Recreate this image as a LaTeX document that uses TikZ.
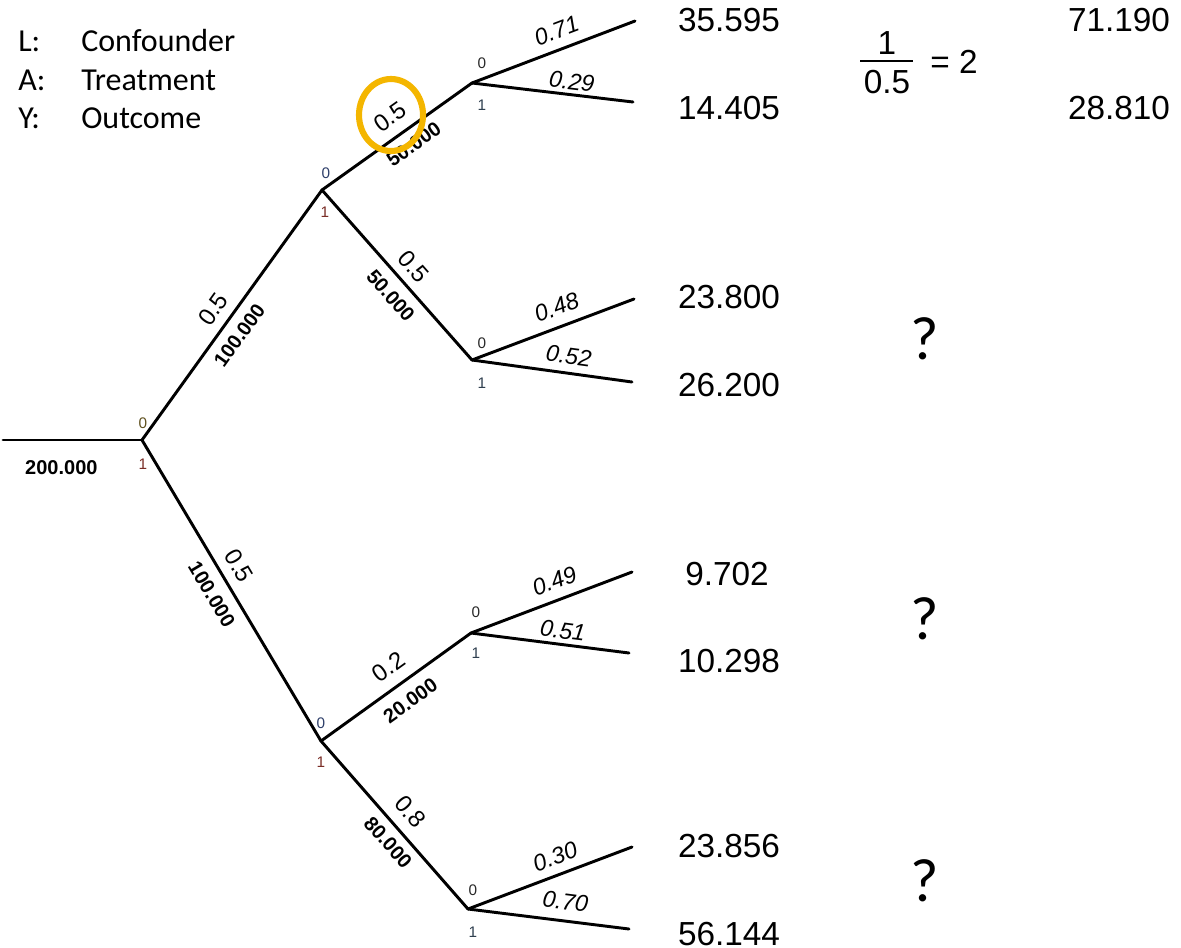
\documentclass[tikz,border=0pt]{standalone}
\usepackage{fontspec}
\setmainfont{Liberation Sans}
\newfontfamily\legendfont{Carlito}
\definecolor{ringcol}{RGB}{244,182,0}
\definecolor{zerotop}{RGB}{95,80,30}
\definecolor{zeromid}{RGB}{45,62,105}
\definecolor{zerolow}{RGB}{40,40,40}
\definecolor{onecol}{RGB}{122,45,38}
\definecolor{onelow}{RGB}{47,63,79}
\begin{document}
\begin{tikzpicture}[x=0.75pt,y=-0.75pt,
  branch/.style={line width=2.2pt,black,line cap=round},
  prob/.style={sloped,inner sep=0pt,font=\fontsize{18}{20}\selectfont},
  lprob/.style={sloped,inner sep=0pt,font=\fontsize{17.5}{20}\selectfont\itshape},
  wt/.style={sloped,inner sep=0pt,font=\fontsize{15}{17}\selectfont\bfseries},
  tiny/.style={inner sep=0pt,font=\fontsize{11.5}{13}\selectfont},
  leafval/.style={inner sep=0pt,font=\fontsize{25}{28}\selectfont},
  qmark/.style={inner sep=0pt,font=\legendfont\fontsize{46}{52}\selectfont},
  legend/.style={inner sep=0pt,anchor=base west,font=\legendfont\fontsize{24}{28}\selectfont}]
\useasboundingbox (0,0) rectangle (1181,947);

% legend
\node[legend] (lgL) at (18,51.5) {L:};
\node[legend] (lgLt) at (81,51.5) {Confounder};
\node[legend] (lgA) at (18,90.5) {A:};
\node[legend] (lgAt) at (81,90.5) {Treatment};
\node[legend] (lgY) at (18,128.5) {Y:};
\node[legend] (lgYt) at (81,128.5) {Outcome};

% tree points
\coordinate (S) at (3,440);
\coordinate (R) at (142,440);
\coordinate (Lt) at (322,190);
\coordinate (Lb) at (321,741);
\coordinate (A00) at (472,83);
\coordinate (A01) at (472,360);
\coordinate (A10) at (471,633);
\coordinate (A11) at (468,909);
\coordinate (Y000) at (635,21);
\coordinate (Y001) at (633,102);
\coordinate (Y010) at (634,299);
\coordinate (Y011) at (632,382);
\coordinate (Y100) at (632,572);
\coordinate (Y101) at (629,653);
\coordinate (Y110) at (632,847);
\coordinate (Y111) at (629,929);

% root
\draw[branch] (S) -- node[wt,sloped=false,below=14.5pt,pos=0.42]{200.000} (R);
% L branches
\draw[branch] (R) -- node[prob,above=6.7pt,pos=0.48]{0.5} node[wt,below=7pt,pos=0.46]{100.000} (Lt);
\draw[branch] (R) -- node[prob,above=6.9pt,pos=0.45]{0.5} node[wt,below=7.7pt,pos=0.48]{100.000} (Lb);
% A branches
\draw[branch] (Lt) -- node[prob,above=7.6pt,pos=0.53]{0.5} node[wt,below=5.6pt,pos=0.55]{50.000} (A00);
\draw[branch] (Lt) -- node[prob,above=6pt,pos=0.52]{0.5} node[wt,below=7.4pt,pos=0.55]{50.000} (A01);
\draw[branch] (Lb) -- node[prob,above=7.9pt,pos=0.53]{0.2} node[wt,below=8.2pt,pos=0.52]{20.000} (A10);
\draw[branch] (Lb) -- node[prob,above=8.3pt,pos=0.50]{0.8} node[wt,below=5.9pt,pos=0.54]{80.000} (A11);
% Y branches
\draw[branch] (A00) -- node[lprob,above=6.8pt,pos=0.56]{0.71} (Y000);
\draw[branch] (A00) -- node[lprob,above=2.6pt,pos=0.61]{0.29} (Y001);
\draw[branch] (A01) -- node[lprob,above=7.4pt,pos=0.565]{0.48} (Y010);
\draw[branch] (A01) -- node[lprob,above=5.6pt,pos=0.59]{0.52} (Y011);
\draw[branch] (A10) -- node[lprob,above=7pt,pos=0.56]{0.49} (Y100);
\draw[branch] (A10) -- node[lprob,above=3.2pt,pos=0.57]{0.51} (Y101);
\draw[branch] (A11) -- node[lprob,above=6.3pt,pos=0.57]{0.30} (Y110);
\draw[branch] (A11) -- node[lprob,above=7.1pt,pos=0.59]{0.70} (Y111);

% small 0/1 labels
\node[tiny,text=zerotop] (zR) at ([shift={(1,-17)}]R) {0};
\node[tiny,text=onecol] (oR) at ([shift={(1,24)}]R) {1};
\node[tiny,text=zeromid] (zLt) at ([shift={(4,-17)}]Lt) {0};
\node[tiny,text=onecol] (oLt) at ([shift={(3,22)}]Lt) {1};
\node[tiny,text=zeromid] (zLb) at ([shift={(0,-18)}]Lb) {0};
\node[tiny,text=onecol] (oLb) at ([shift={(0,21)}]Lb) {1};
\node[tiny,text=zerolow] (zA00) at ([shift={(10,-20)}]A00) {0};
\node[tiny,text=onelow] (oA00) at ([shift={(10,22)}]A00) {1};
\node[tiny,text=zerolow] (zA01) at ([shift={(10,-17)}]A01) {0};
\node[tiny,text=onelow] (oA01) at ([shift={(10,23)}]A01) {1};
\node[tiny,text=zerolow] (zA10) at ([shift={(5,-21)}]A10) {0};
\node[tiny,text=onelow] (oA10) at ([shift={(5,20)}]A10) {1};
\node[tiny,text=zerolow] (zA11) at ([shift={(5,-19)}]A11) {0};
\node[tiny,text=onelow] (oA11) at ([shift={(5,23)}]A11) {1};

% leaf values
\node[leafval] (v000) at (729,20) {35.595};
\node[leafval] (v001) at (729,108) {14.405};
\node[leafval] (v010) at (729,297) {23.800};
\node[leafval] (v011) at (729,385) {26.200};
\node[leafval] (v100) at (727,574) {9.702};
\node[leafval] (v101) at (729,661) {10.298};
\node[leafval] (v110) at (729,846) {23.856};
\node[leafval] (v111) at (729,934) {56.144};

% right column
\node[leafval] (w000) at (1119,20) {71.190};
\node[leafval] (w001) at (1119,108) {28.810};
\node[leafval] (fnum) at (887,43) {1};
\node[leafval] (fden) at (887,82) {0.5};
\coordinate (fbl) at (860,61);
\coordinate (fbr) at (913,61);
\draw[line width=1.8pt] (fbl) -- (fbr);
\node[leafval] (feq) at (954,62) {= 2};

\node[qmark] (q1) at (925,339) {?};
\node[qmark] (q2) at (925,619) {?};
\node[qmark] (q3) at (925,881) {?};

% highlight ring
\draw[ringcol,line width=4.6pt] (391,115) ellipse [x radius=24pt, y radius=27pt];
\end{tikzpicture}
\end{document}
